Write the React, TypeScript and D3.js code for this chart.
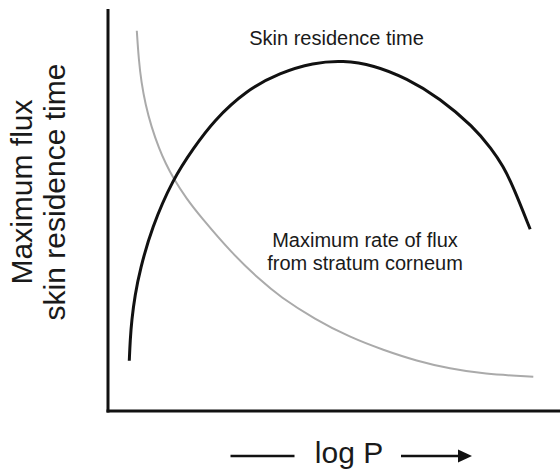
import React from "react";
import * as d3 from "d3";

// Conceptual chart: x = log P (0..100 arbitrary units), y = relative magnitude (0..100)
const residenceX = [4.73, 4.93, 5.27, 6.0, 7.11, 9.67, 14.51, 18.96, 23.4, 30.82, 38.22, 45.62, 52.22, 58.96, 66.38, 73.78, 81.18, 85.27, 87.78, 90.07, 93.82];
const residenceY = [12.51, 17.66, 22.64, 28.86, 35.07, 45.52, 57.89, 65.3, 72.14, 79.85, 84.15, 86.64, 87.19, 86.07, 82.76, 77.79, 70.72, 65.17, 60.95, 55.8, 45.2];

const fluxX = [6.4, 6.84, 7.42, 8.33, 9.62, 11.38, 12.82, 14.51, 17.49, 20.44, 27.56, 33.78, 38.22, 46.0, 53.78, 61.18, 68.6, 76.0, 83.4, 94.51];
const fluxY = [94.6, 87.26, 81.74, 76.24, 70.75, 65.22, 61.57, 57.89, 52.74, 48.51, 39.18, 32.59, 28.43, 22.81, 18.33, 15.17, 12.44, 10.52, 9.2, 8.53];

const yLabelLines = ["Maximum flux", "skin residence time"];
const residenceLabel = "Skin residence time";
const fluxLabelLines = ["Maximum rate of flux", "from stratum corneum"];
const xLabel = "log P";

const W = 560;
const H = 470;
const FONT = "'Liberation Sans', Arial, Helvetica, sans-serif";

export default function App() {
  const x = d3.scaleLinear().domain([0, 100]).range([108, 558]);
  const y = d3.scaleLinear().domain([0, 100]).range([411, 9]);

  const line = d3
    .line<[number, number]>()
    .x((d) => x(d[0]))
    .y((d) => y(d[1]))
    .curve(d3.curveBasis);

  const residence = residenceX.map((v, i) => [v, residenceY[i]] as [number, number]);
  const flux = fluxX.map((v, i) => [v, fluxY[i]] as [number, number]);

  const x0 = x(0);
  const y0 = y(0);

  return (
    <svg
      width={W}
      height={H}
      style={{ position: "absolute", left: 0, top: 0, background: "#fff" }}
      fontFamily={FONT}
    >
      <rect width={W} height={H} fill="#fff" />
      {/* curves */}
      <path d={line(flux) || ""} fill="none" stroke="#aaaaaa" strokeWidth={2} />
      <path d={line(residence) || ""} fill="none" stroke="#111" strokeWidth={3} strokeLinecap="butt" />

      {/* axes */}
      <line x1={x0} y1={y(100)} x2={x0} y2={y0 + 1.5} stroke="#111" strokeWidth={3} />
      <line x1={x0 - 1.5} y1={y0} x2={W} y2={y0} stroke="#111" strokeWidth={3} />

      {/* annotations */}
      <text x={336.5} y={45} fontSize={20} textAnchor="middle" fill="#1a1a1a">
        {residenceLabel}
      </text>
      {fluxLabelLines.map((t, i) => (
        <text key={t} x={365} y={246.5 + i * 23.5} fontSize={20} textAnchor="middle" fill="#1a1a1a">
          {t}
        </text>
      ))}

      {/* y label */}
      {yLabelLines.map((t, i) => (
        <text
          key={t}
          transform={`translate(${31.5 + i * 33.5},192) rotate(-90)`}
          fontSize={30}
          textAnchor="middle"
          fill="#1a1a1a"
        >
          {t}
        </text>
      ))}

      {/* x label with arrows */}
      <text x={349} y={463} fontSize={30} textAnchor="middle" fill="#1a1a1a">
        {xLabel}
      </text>
      <line x1={230.5} y1={456} x2={294.5} y2={456} stroke="#111" strokeWidth={2.7} />
      <line x1={401} y1={456} x2={460} y2={456} stroke="#111" strokeWidth={2.7} />
      <polygon points="458,449.5 472,456 458,462.5" fill="#111" />
    </svg>
  );
}
